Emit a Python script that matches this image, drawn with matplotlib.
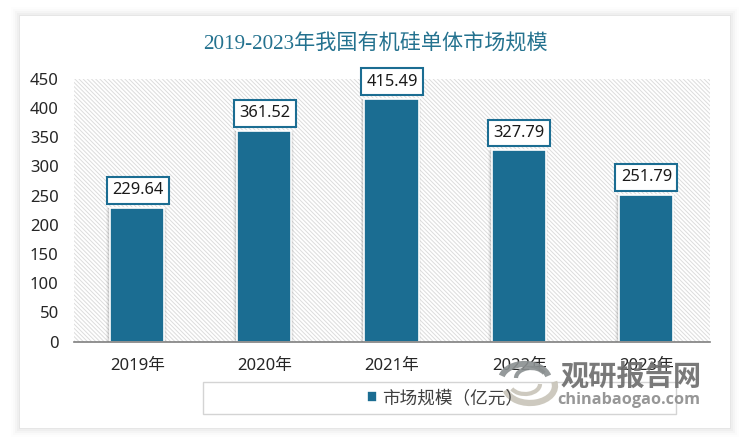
import matplotlib
matplotlib.use("Agg")
import matplotlib.pyplot as plt
from matplotlib.patches import Rectangle, Arc

years = ["2019年", "2020年", "2021年", "2022年", "2023年"]
values = [229.64, 361.52, 415.49, 327.79, 251.79]
yticks = [0, 50, 100, 150, 200, 250, 300, 350, 400, 450]

TEAL = "#1b6d92"
W, H = 750, 445
CJK = ["Noto Sans", "Noto Sans CJK SC"]
plt.rcParams["font.family"] = CJK
plt.rcParams["hatch.linewidth"] = 0.7

fig = plt.figure(figsize=(7.5, 4.45), dpi=100, facecolor="white")

# card + soft shadow, plus overlay for watermark, in pixel coords
bg = fig.add_axes([0, 0, 1, 1], zorder=0)
bg.set_xlim(0, W)
bg.set_ylim(H, 0)
bg.axis("off")
for grow, a in [(9, 0.008), (7, 0.012), (5, 0.018), (3, 0.025), (1, 0.035)]:
    bg.add_patch(Rectangle((20 - grow, 16 - grow), 710 + 2 * grow, 412 + 2 * grow,
                           fc="black", ec="none", alpha=a))
bg.add_patch(Rectangle((20, 16), 710, 412, fc="white", ec="none"))
bg.add_patch(Rectangle((203, 382), 473, 32, fc="white", ec="#d4d4d4", lw=1))

ax = fig.add_axes([74 / W, 1 - 341.5 / H, 636 / W, 262.5 / H], zorder=1)
ax.set_facecolor("white")
ax.add_patch(Rectangle((0, 0), 1, 1, transform=ax.transAxes, fc="white",
                       ec="#dcdcdc", lw=0, hatch="\\\\\\\\\\\\\\\\", zorder=0))

x = list(range(len(years)))
# bar shadow
for grow, a in [(0.05, 0.03), (0.035, 0.05), (0.02, 0.07)]:
    ax.bar([i - 0.01 for i in x], values, width=0.425 + grow, color="black",
           alpha=a, linewidth=0, zorder=1)
bars = ax.bar([i - 0.004 for i in x], values, width=0.425, color=TEAL, edgecolor="white",
              linewidth=1.2, zorder=2, label="市场规模（亿元）")

for i, v in zip(x, values):
    ax.annotate(f"{v:.2f}", (i, v), xytext=(0, 12.5), textcoords="offset points",
                ha="center", va="center", fontsize=11.8, color="#1a1a1a", zorder=4,
                bbox=dict(boxstyle="square,pad=0.33", fc="white", ec=TEAL, lw=1.5))

ax.set_xlim(-0.5, 4.5)
ax.set_ylim(0, 450)
ax.set_xticks(x, years)
ax.set_yticks(yticks)
ax.tick_params(axis="both", length=0, labelsize=12, labelcolor="#262626")
ax.tick_params(axis="x", pad=12)
ax.tick_params(axis="y", pad=11)
for side in ["top", "left", "right"]:
    ax.spines[side].set_visible(False)
ax.spines["bottom"].set_color("#7f7f7f")
ax.spines["bottom"].set_linewidth(1.2)

fig.text(375 / W, 1 - 44 / H, "2019-2023年我国有机硅单体市场规模", ha="center", va="center",
         fontsize=15.2, color="#24728f", family=["Liberation Serif", "Noto Sans CJK SC"])

fig.legend(handles=[bars[0]], labels=["市场规模（亿元）"], loc="center",
           bbox_to_anchor=(445 / W, 1 - 398 / H), frameon=False, fontsize=12.7,
           labelcolor="#404040", handlelength=0.55, handleheight=0.55, handletextpad=0.3)

# watermark
wm = fig.add_axes([0, 0, 1, 1], zorder=5)
wm.set_xlim(0, W)
wm.set_ylim(H, 0)
wm.axis("off")
wm.patch.set_alpha(0)
for (cx, cy, w, h, t1, t2, col, lw) in [
    (525, 380, 48, 32, 190, 350, "#8a8f90", 4.5),
    (531, 378, 30, 20, 180, 340, "#8a8f90", 3),
    (530, 386, 50, 34, 350, 170, "#c8c4b8", 4.5),
    (525, 384, 30, 20, 0, 160, "#c8c4b8", 3),
]:
    wm.add_patch(Arc((cx, cy), w, h, theta1=t1, theta2=t2, color=col, lw=lw, alpha=0.9))
wm.text(631.5, 377, "观研报告网", ha="center", va="center", fontsize=20.3, fontweight="black",
        color="#6e6e6e", alpha=0.92, family=["Noto Sans CJK SC"])
wm.text(629, 400, "chinabaogao.com", ha="center", va="center", fontsize=11.7,
        fontweight="bold", color="#8c8c8c", alpha=0.9, family=["Open Sans"])

fig.savefig("out.png", dpi=100)
